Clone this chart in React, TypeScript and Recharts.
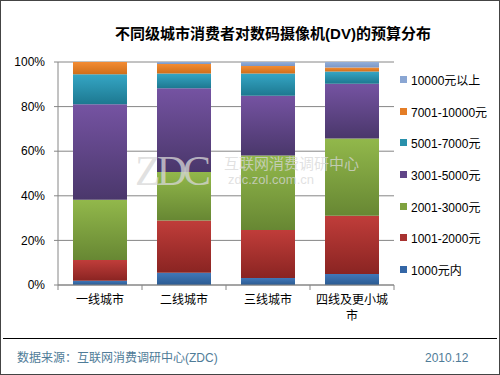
import { BarChart, Bar, XAxis, YAxis, CartesianGrid } from 'recharts';

document.body.style.margin = '0';

const cities = ['一线城市', '二线城市', '三线城市', '四线及更小城市'];
const under1000 = [1.9, 5.5, 3.1, 4.9];
const from1001to2000 = [9.3, 23.4, 21.6, 26.1];
const from2001to3000 = [27.0, 21.8, 33.4, 34.7];
const from3001to5000 = [42.8, 37.5, 26.8, 24.6];
const from5001to7000 = [13.5, 6.6, 9.9, 5.4];
const from7001to10000 = [5.5, 4.3, 3.4, 1.8];
const over10000 = [0, 0.9, 1.8, 2.5];
const yTicks = [0, 0.2, 0.4, 0.6, 0.8, 1];

const series = [
  { key: 'a', name: '1000元内', values: under1000, top: '#4177b8', bottom: '#2b5b92', swatch: '#3466a6' },
  { key: 'b', name: '1001-2000元', values: from1001to2000, top: '#c03d3a', bottom: '#8a2422', swatch: '#a83230' },
  { key: 'c', name: '2001-3000元', values: from2001to3000, top: '#92b84b', bottom: '#678733', swatch: '#7fa23f' },
  { key: 'd', name: '3001-5000元', values: from3001to5000, top: '#7553a2', bottom: '#4a376b', swatch: '#604487' },
  { key: 'e', name: '5001-7000元', values: from5001to7000, top: '#35a6c5', bottom: '#1d7890', swatch: '#2990ab' },
  { key: 'f', name: '7001-10000元', values: from7001to10000, top: '#f38c33', bottom: '#cf6e1a', swatch: '#e47d26' },
  { key: 'g', name: '10000元以上', values: over10000, top: '#94afd9', bottom: '#7b97c6', swatch: '#8aa6d3' },
];

const data = cities.map((city, i) => {
  const row: Record<string, string | number> = { city };
  series.forEach((s) => (row[s.key] = s.values[i]));
  return row;
});

const FONT = '"Liberation Sans", Arial, "Noto Sans CJK SC", sans-serif';
const BAND = 84;

function CityTick(props: any) {
  const { x, y, payload, index } = props;
  const label: string = payload.value;
  const lines = label.length > 6 ? [label.slice(0, 6), label.slice(6)] : [label];
  return (
    <g>
      <line x1={x - BAND / 2} x2={x - BAND / 2} y1={y - 8} y2={y - 3} stroke="#868686" />
      {index === cities.length - 1 && (
        <line x1={x + BAND / 2} x2={x + BAND / 2} y1={y - 8} y2={y - 3} stroke="#868686" />
      )}
      <text x={x} y={y + 11} textAnchor="middle" fontSize={12} fill="#000" fontFamily={FONT}>
        {lines.map((l, i) => (
          <tspan key={i} x={x} dy={i === 0 ? 0 : 16}>
            {l}
          </tspan>
        ))}
      </text>
    </g>
  );
}

export default function App() {
  return (
    <div
      style={{
        position: 'relative',
        width: 500,
        height: 375,
        boxSizing: 'border-box',
        border: '1px solid #444',
        background: '#fff',
        fontFamily: FONT,
        overflow: 'hidden',
      }}
    >
      <div
        style={{
          position: 'absolute',
          top: 23,
          left: 0,
          width: 544,
          textAlign: 'center',
          fontSize: 15,
          fontWeight: 'bold',
          color: '#000',
          lineHeight: '20px',
        }}
      >
        不同级城市消费者对数码摄像机(DV)的预算分布
      </div>

      <div style={{ position: 'absolute', top: 0, left: -1 }}>
        <BarChart
          width={500}
          height={330}
          data={data}
          stackOffset="expand"
          barSize={54}
          margin={{ top: 61, right: 106, left: 0, bottom: 6 }}
        >
          <defs>
            {series.map((s) => (
              <linearGradient key={s.key} id={`grad-${s.key}`} x1="0" y1="0" x2="0" y2="1">
                <stop offset="0%" stopColor={s.top} />
                <stop offset="100%" stopColor={s.bottom} />
              </linearGradient>
            ))}
          </defs>
          <CartesianGrid vertical={false} stroke="#868686" />
          <XAxis
            dataKey="city"
            axisLine={{ stroke: '#868686' }}
            tickLine={false}
            height={40}
            interval={0}
            tick={<CityTick />}
          />
          <YAxis
            width={58}
            ticks={yTicks}
            domain={[0, 1]}
            tickFormatter={(v: number) => `${Math.round(v * 100)}%`}
            axisLine={{ stroke: '#868686' }}
            tickLine={{ stroke: '#868686' }}
            tickSize={4}
            tickMargin={9}
            tick={{ fontSize: 12, fill: '#000', fontFamily: FONT }}
          />
          {series.map((s) => (
            <Bar
              key={s.key}
              dataKey={s.key}
              name={s.name}
              stackId="budget"
              fill={`url(#grad-${s.key})`}
              isAnimationActive={false}
            />
          ))}
        </BarChart>
      </div>

      {/* watermark */}
      <div style={{ position: 'absolute', left: 0, top: 0, pointerEvents: 'none', color: 'rgba(215,215,215,0.75)' }}>
        <div
          style={{
            position: 'absolute',
            left: 134,
            top: 146,
            fontSize: 42,
            fontFamily: '"Liberation Serif", serif',
            letterSpacing: -4,
            lineHeight: '48px',
            whiteSpace: 'nowrap',
          }}
        >
          ZDC
        </div>
        <div style={{ position: 'absolute', left: 223, top: 154, fontSize: 15, lineHeight: '18px', whiteSpace: 'nowrap' }}>
          互联网消费调研中心
        </div>
        <div style={{ position: 'absolute', left: 227, top: 171, fontSize: 13, lineHeight: '15px', whiteSpace: 'nowrap' }}>
          zdc.zol.com.cn
        </div>
      </div>

      {/* legend */}
      <div style={{ position: 'absolute', left: 399, top: 63 }}>
        {[...series].reverse().map((s) => (
          <div key={s.key} style={{ display: 'flex', alignItems: 'center', height: 31.6, fontSize: 12, color: '#000' }}>
            <span style={{ width: 7, height: 7, background: s.swatch, marginRight: 4, flexShrink: 0 }} />
            <span style={{ whiteSpace: 'nowrap' }}>{s.name}</span>
          </div>
        ))}
      </div>

      <div style={{ position: 'absolute', left: 2, right: 2, top: 337, borderTop: '1px solid #000' }} />
      <div style={{ position: 'absolute', left: 16, top: 349, fontSize: 12, color: '#4f7c98', lineHeight: '16px' }}>
        数据来源：互联网消费调研中心(ZDC)
      </div>
      <div style={{ position: 'absolute', left: 424, top: 349, fontSize: 12, color: '#4f7c98', lineHeight: '16px' }}>
        2010.12
      </div>
    </div>
  );
}
